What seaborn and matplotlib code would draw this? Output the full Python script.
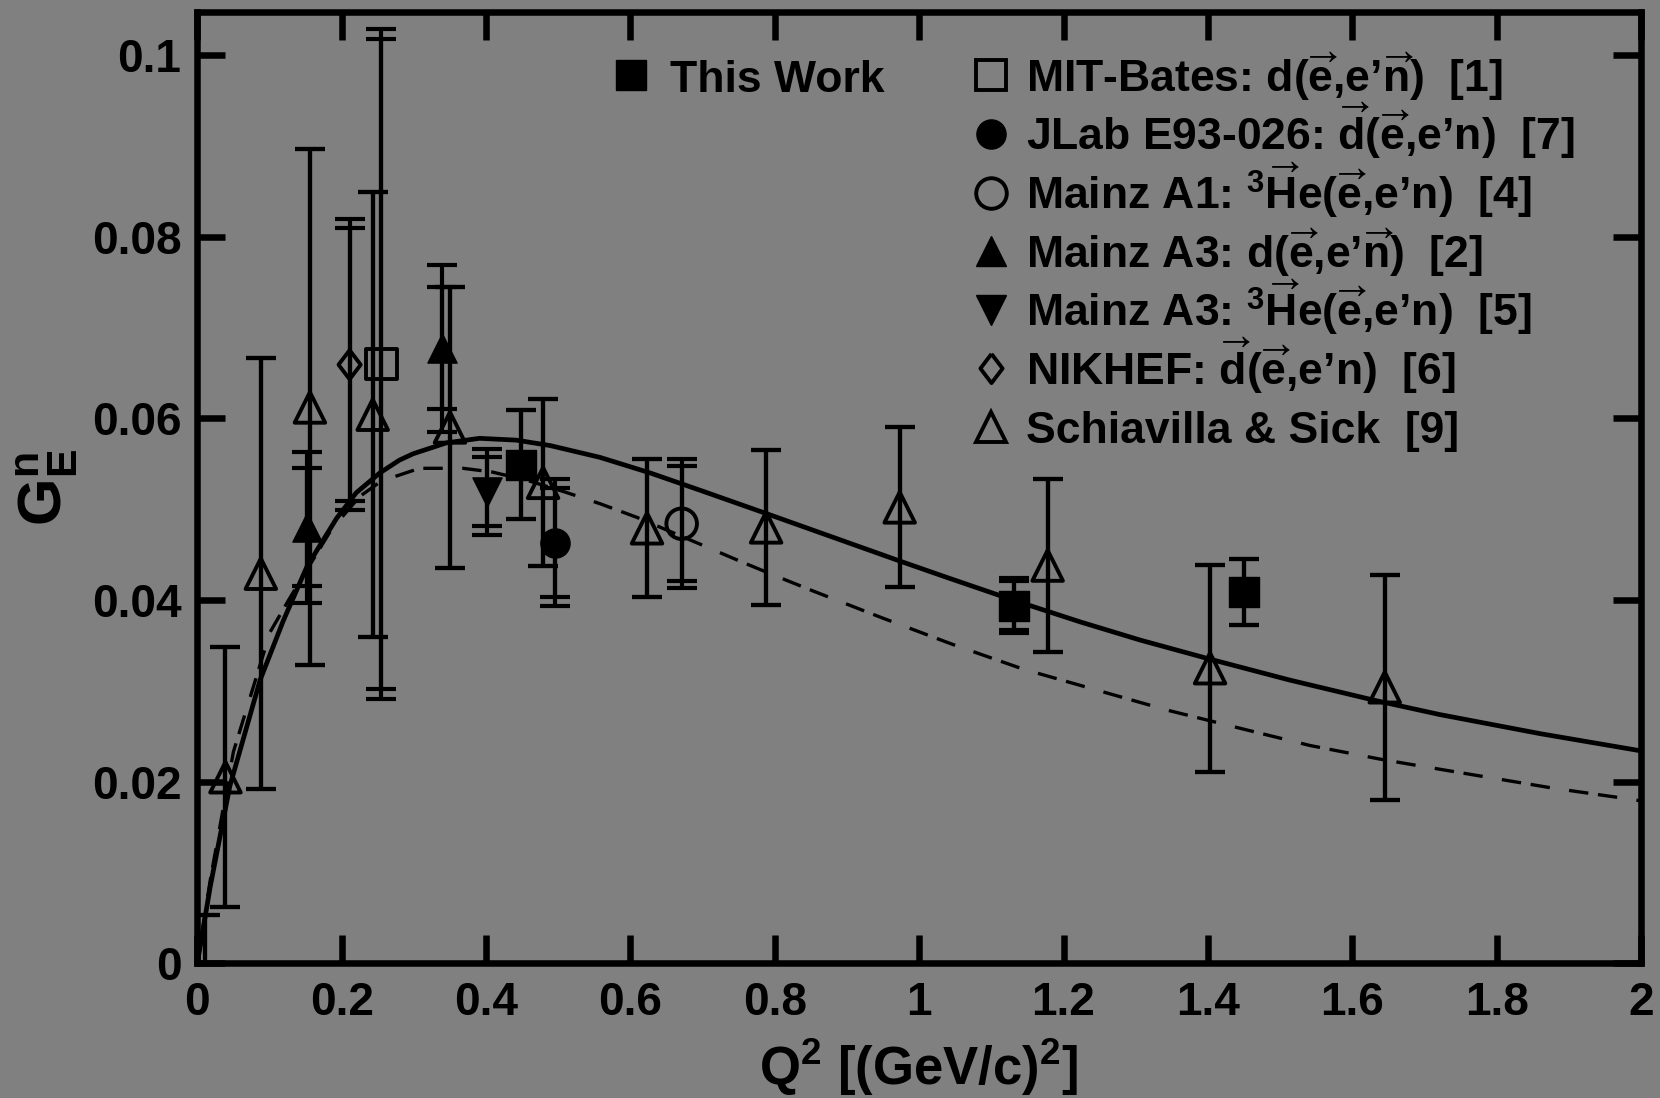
import matplotlib
matplotlib.use("Agg")
import matplotlib.pyplot as plt
from matplotlib.ticker import FuncFormatter
import seaborn as sns

# ---------------- data: neutron electric form factor G_E^n vs Q^2 [(GeV/c)^2] ----------------
this_work_q2 = [0.448, 1.132, 1.450]
this_work_ge = [0.0549, 0.0394, 0.0409]
this_work_stat = [0.0060, 0.0027, 0.0036]
this_work_tot = [0.0060, 0.0030, 0.0036]

mit_q2 = [0.255]
mit_ge = [0.0660]
mit_stat = [0.0358]
mit_tot = [0.0369]

jlab_q2 = [0.495]
jlab_ge = [0.0463]
jlab_stat = [0.0060]
jlab_tot = [0.0070]

a1_q2 = [0.671]
a1_ge = [0.0484]
a1_stat = [0.0063]
a1_tot = [0.0071]

a3d_q2 = [0.152, 0.339]
a3d_ge = [0.0480, 0.0677]
a3d_stat = [0.0065, 0.0067]
a3d_tot = [0.0083, 0.0092]

a3he_q2 = [0.401]
a3he_ge = [0.0519]
a3he_stat = [0.0038]
a3he_tot = [0.0047]

nikhef_q2 = [0.211]
nikhef_ge = [0.0659]
nikhef_stat = [0.0150]
nikhef_tot = [0.0160]

ss_q2 = [0.011, 0.039, 0.088, 0.156, 0.243, 0.350, 0.479, 0.623, 0.788, 0.973, 1.178, 1.403, 1.645]
ss_ge = [-0.0025, 0.0205, 0.0429, 0.0612, 0.0604, 0.0590, 0.0529, 0.0479, 0.0480, 0.0502, 0.0438, 0.0325, 0.0304]
ss_err = [0.0078, 0.0143, 0.0237, 0.0284, 0.0245, 0.0155, 0.0092, 0.0076, 0.0085, 0.0088, 0.0095, 0.0114, 0.0124]

# parametrisation curves
fit_q2 = [0.0, 0.018, 0.045, 0.087, 0.119, 0.152, 0.193, 0.220, 0.253, 0.280, 0.299, 0.345, 0.391,
          0.442, 0.489, 0.558, 0.627, 0.696, 0.789, 0.881, 0.973, 1.038, 1.130, 1.223, 1.306, 1.398,
          1.513, 1.629, 1.721, 1.860, 2.0]
fit_ge = [0.0, 0.0085, 0.0195, 0.0312, 0.0377, 0.0437, 0.0490, 0.0518, 0.0540, 0.0554, 0.0561, 0.0573, 0.0578,
          0.0576, 0.0570, 0.0557, 0.0540, 0.0521, 0.0495, 0.0469, 0.0443, 0.0425, 0.0400, 0.0376, 0.0356, 0.0336,
          0.0312, 0.0290, 0.0274, 0.0253, 0.0234]

alt_q2 = [0.0, 0.018, 0.050, 0.101, 0.128, 0.186, 0.225, 0.255, 0.308, 0.368, 0.408, 0.456, 0.509,
          0.558, 0.609, 0.701, 0.754, 0.803, 0.853, 0.950, 1.047, 1.144, 1.343, 1.444, 1.541, 1.638,
          1.682, 1.878, 1.975, 2.0]
alt_ge = [0.0, 0.0092, 0.0233, 0.0365, 0.0402, 0.0478, 0.0514, 0.0531, 0.0545, 0.0545, 0.0541, 0.0532, 0.0519,
          0.0506, 0.0491, 0.0460, 0.0442, 0.0426, 0.0410, 0.0380, 0.0351, 0.0324, 0.0279, 0.0259, 0.0240, 0.0225,
          0.0219, 0.0193, 0.0182, 0.0179]

x_ticks = [0, 0.2, 0.4, 0.6, 0.8, 1.0, 1.2, 1.4, 1.6, 1.8, 2.0]
y_ticks = [0, 0.02, 0.04, 0.06, 0.08, 0.1]

# ---------------- style ----------------
GRAY = "#808080"
sns.set_style("ticks")
plt.rcParams.update({
    "font.family": ["Liberation Sans", "DejaVu Sans"],
    "font.weight": "bold",
    "mathtext.fontset": "custom",
    "mathtext.rm": "Liberation Sans:bold",
    "mathtext.it": "Liberation Sans:bold",
    "mathtext.bf": "Liberation Sans:bold",
    "mathtext.sf": "Liberation Sans:bold",
    "lines.scale_dashes": False,
    "figure.facecolor": GRAY,
    "axes.facecolor": GRAY,
    "savefig.facecolor": GRAY,
    "axes.edgecolor": "black",
    "axes.labelcolor": "black",
    "text.color": "black",
    "xtick.color": "black",
    "ytick.color": "black",
    "axes.linewidth": 4.7,
})

fig = plt.figure(figsize=(16.6, 10.98), dpi=100)
ax = fig.add_axes([0.11886, 0.12250, 0.86970, 0.86640])

EB = dict(fmt="none", ecolor="black", elinewidth=3.0, capsize=10.5, capthick=3.0, zorder=2)


def bars(q2, ge, stat, tot):
    ax.errorbar(q2, ge, yerr=tot, **EB)
    ax.errorbar(q2, ge, yerr=stat, **EB)


bars(ss_q2, ss_ge, ss_err, ss_err)
bars(mit_q2, mit_ge, mit_stat, mit_tot)
bars(nikhef_q2, nikhef_ge, nikhef_stat, nikhef_tot)
bars(a3d_q2, a3d_ge, a3d_stat, a3d_tot)
bars(a3he_q2, a3he_ge, a3he_stat, a3he_tot)
bars(jlab_q2, jlab_ge, jlab_stat, jlab_tot)
bars(a1_q2, a1_ge, a1_stat, a1_tot)
bars(this_work_q2, this_work_ge, this_work_stat, this_work_tot)

# curves
sns.lineplot(x=fit_q2, y=fit_ge, ax=ax, color="black", linewidth=3.4, zorder=3)
sns.lineplot(x=alt_q2, y=alt_ge, ax=ax, color="black", linewidth=2.4,
             linestyle=(0, (14, 7, 14, 14)), zorder=3)

# markers
DIAMOND = [(0, 1), (0.76, 0), (0, -1), (-0.76, 0), (0, 1)]
OPEN = dict(facecolor="none", edgecolor="black", linewidth=2.8, zorder=4)
FILLED = dict(color="black", edgecolor="black", linewidth=1.0, zorder=4)

sns.scatterplot(x=ss_q2, y=ss_ge, ax=ax, marker="^", s=22 ** 2, **OPEN)
sns.scatterplot(x=mit_q2, y=mit_ge, ax=ax, marker="s", s=22 ** 2, **OPEN)
sns.scatterplot(x=nikhef_q2, y=nikhef_ge, ax=ax, marker=DIAMOND, s=21 ** 2, **OPEN)
sns.scatterplot(x=a1_q2, y=a1_ge, ax=ax, marker="o", s=22 ** 2, **OPEN)
sns.scatterplot(x=a3d_q2, y=a3d_ge, ax=ax, marker="^", s=21 ** 2, **FILLED)
sns.scatterplot(x=a3he_q2, y=a3he_ge, ax=ax, marker="v", s=21 ** 2, **FILLED)
sns.scatterplot(x=jlab_q2, y=jlab_ge, ax=ax, marker="o", s=21 ** 2, **FILLED)
sns.scatterplot(x=this_work_q2, y=this_work_ge, ax=ax, marker="s", s=21 ** 2, **FILLED)

# ---------------- axes ----------------
ax.set_xlim(0, 2)
ax.set_ylim(0, 0.1047)
ax.set_xticks(x_ticks)
ax.set_yticks(y_ticks)
fmt = FuncFormatter(lambda v, p: f"{v:g}")
ax.xaxis.set_major_formatter(fmt)
ax.yaxis.set_major_formatter(fmt)
ax.minorticks_off()
ax.tick_params(which="major", direction="in", length=20, width=4.7,
               top=True, right=True, labelsize=33)
ax.tick_params(axis="x", pad=12.5)
ax.tick_params(axis="y", pad=11.5)
for sp in ax.spines.values():
    sp.set_visible(True)
    sp.set_linewidth(4.7)
    sp.set_zorder(6)

ax.set_xlabel(r"Q$^{2}$ [(GeV/c)$^{2}$]", fontsize=38, fontweight="bold")
ax.xaxis.set_label_coords(0.5, -0.077)
ax.set_ylabel(r"G$_{\mathrm{E}}^{\mathrm{n}}$", fontsize=44, fontweight="bold")
ax.yaxis.set_label_coords(-0.081, 0.5)

# ---------------- key ----------------
LEG_FS = 32
A = r"\overrightarrow"
key_left = [("This Work", dict(marker="s", ms=21, mfc="black", mec="black", mew=1.0))]
key_right = [
    (r"MIT-Bates: d($" + A + r"{\mathrm{e}}$,e’$" + A + r"{\mathrm{n}}$)  [1]",
     dict(marker="s", ms=22, mfc="none", mec="black", mew=2.8)),
    (r"JLab E93-026: $" + A + r"{\mathrm{d}}$($" + A + r"{\mathrm{e}}$,e’n)  [7]",
     dict(marker="o", ms=21, mfc="black", mec="black", mew=1.0)),
    (r"Mainz A1: $^{3}" + A + r"{\mathrm{H}}$e($" + A + r"{\mathrm{e}}$,e’n)  [4]",
     dict(marker="o", ms=22, mfc="none", mec="black", mew=2.8)),
    (r"Mainz A3: d($" + A + r"{\mathrm{e}}$,e’$" + A + r"{\mathrm{n}}$)  [2]",
     dict(marker="^", ms=21, mfc="black", mec="black", mew=1.0)),
    (r"Mainz A3: $^{3}" + A + r"{\mathrm{H}}$e($" + A + r"{\mathrm{e}}$,e’n)  [5]",
     dict(marker="v", ms=21, mfc="black", mec="black", mew=1.0)),
    (r"NIKHEF: $" + A + r"{\mathrm{d}}$($" + A + r"{\mathrm{e}}$,e’n)  [6]",
     dict(marker=DIAMOND, ms=21, mfc="none", mec="black", mew=2.8)),
    (r"Schiavilla & Sick  [9]",
     dict(marker="^", ms=22, mfc="none", mec="black", mew=2.8)),
]

row0, row_step, mark_dy = 0.9164, 0.0616, 0.0171
for label, mk in key_left:
    ax.plot([0.3001], [row0 + mark_dy], transform=ax.transAxes, clip_on=False,
            linestyle="none", zorder=7, **mk)
    ax.text(0.3274, row0, label, transform=ax.transAxes, fontsize=LEG_FS,
            fontweight="bold", ha="left", va="baseline")
for i, (label, mk) in enumerate(key_right):
    yb = row0 - i * row_step
    ax.plot([0.5498], [yb + mark_dy], transform=ax.transAxes, clip_on=False,
            linestyle="none", zorder=7, **mk)
    ax.text(0.5740, yb, label, transform=ax.transAxes, fontsize=LEG_FS,
            fontweight="bold", ha="left", va="baseline")

fig.savefig("out.png", dpi=100, facecolor=GRAY)
